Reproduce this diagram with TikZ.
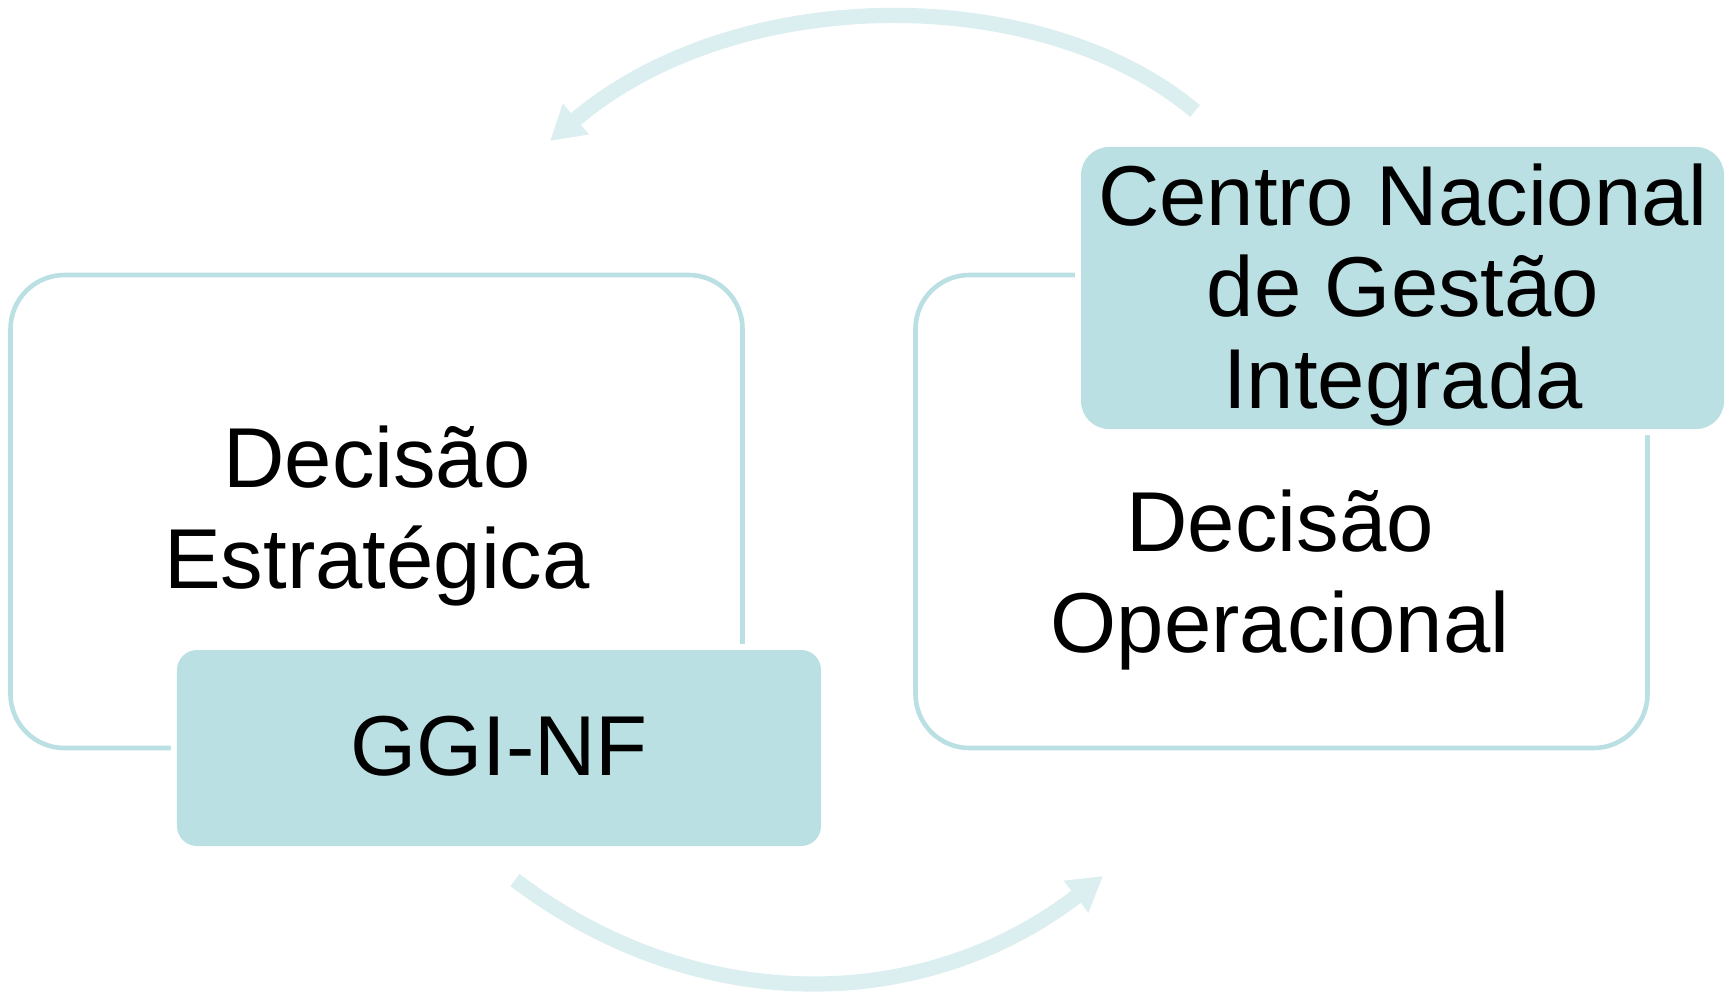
\documentclass[tikz,border=0pt]{standalone}
\usepackage{fontspec}
\setmainfont{Liberation Sans}
\usepackage{tikz}
\usetikzlibrary{arrows.meta}
\definecolor{boxteal}{RGB}{187,224,227}
\definecolor{arrowteal}{RGB}{219,238,240}

\begin{document}
\begin{tikzpicture}[x=0.25mm, y=-0.25mm]
    \tikzstyle{outerbox}=[draw=boxteal, line width=1.15mm, rounded corners=13.5mm, minimum width=183mm, minimum height=118.25mm, inner sep=0pt]
    \tikzstyle{tagbox}=[fill=boxteal, preaction={draw=white, line width=3mm}, inner sep=0pt]
    \tikzstyle{lbl}=[inner sep=0pt, align=center, font=\fontsize{60.5}{72.5}\selectfont]
    \tikzstyle{bendarrow}=[->, draw=arrowteal, line width=3.8mm, >={Triangle[width=9.5mm, length=8.5mm]}]

    \useasboundingbox[fill=white] (0,0) rectangle (1735,997);

    % the two decision levels
    \node[outerbox] (estBox) at (376.5,511.5) {};
    \node[outerbox] (opBox) at (1281.5,511.5) {};
    \node[lbl] (estTxt) at (377,516) {Decisão\\Estratégica};
    \node[lbl] (opTxt) at (1280,580) {Decisão\\Operacional};

    % bodies on top of the frames
    \node[tagbox, rounded corners=5mm, minimum width=161mm, minimum height=49mm] (ggi) at (499,748) {};
    \node[lbl] (ggiTxt) at (499,746) {GGI-NF};
    \node[tagbox, rounded corners=7mm, minimum width=160.75mm, minimum height=70.5mm] (cngi) at (1402.5,288) {};
    \node[lbl, font=\fontsize{60.5}{65}\selectfont] (cngiTxt) at (1403,295) {Centro Nacional\\de Gestão\\Integrada};

    % cycle between the levels
    \coordinate (topTail) at (1195,111);
    \coordinate (topTip) at (550,141);
    \draw[bendarrow] (topTail) .. controls (1041,-18) and (737,-18) .. (topTip);
    \coordinate (botTail) at (515,880);
    \coordinate (botTip) at (1103,876);
    \draw[bendarrow] (botTail) .. controls (694,1016) and (921,1016) .. (botTip);
\end{tikzpicture}
\end{document}
